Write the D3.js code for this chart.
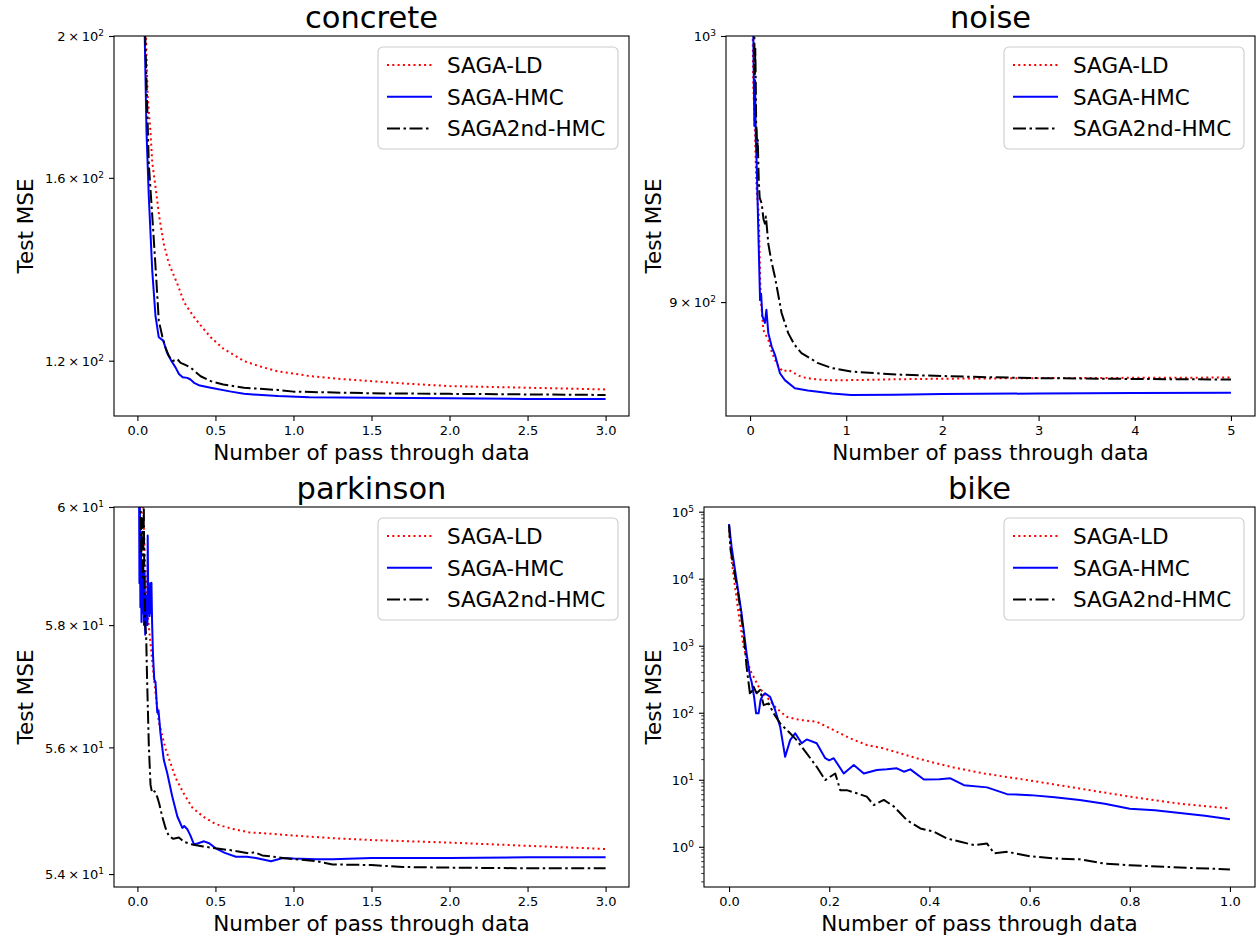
<!DOCTYPE html>
<html>
<head>
<meta charset="utf-8">
<script src="https://cdn.jsdelivr.net/npm/d3@7"></script>
<style>
  body { margin: 0; background: #fff; }
  svg { display: block; font-family: "DejaVu Sans", sans-serif; }
</style>
</head>
<body>
<svg id="fig" width="1256" height="939"></svg>
<script>
// ---------------- data ----------------
const seriesNames = ["SAGA-LD", "SAGA-HMC", "SAGA2nd-HMC"];
const panelTitles = ["concrete", "noise", "parkinson", "bike"];

// concrete
const concreteLdX  = [0.0, 0.03, 0.055, 0.066, 0.083, 0.095, 0.116, 0.14, 0.169, 0.2, 0.256, 0.3, 0.363, 0.42, 0.47, 0.55, 0.685, 0.8, 0.9, 1.0, 1.11, 1.3, 1.5, 1.75, 2.0, 2.5, 3.0];
const concreteLdY  = [300, 240, 200, 181.7, 172.5, 164, 157.7, 150.5, 144.2, 140, 135.4, 131.5, 128.5, 126.3, 124.5, 122.3, 119.9, 118.8, 118.0, 117.6, 117.1, 116.6, 116.2, 115.7, 115.3, 115.0, 114.7];
const concreteHmcX = [0.0, 0.03, 0.047, 0.058, 0.073, 0.095, 0.116, 0.137, 0.15, 0.165, 0.19, 0.219, 0.245, 0.266, 0.29, 0.32, 0.34, 0.363, 0.4, 0.47, 0.6, 0.683, 0.9, 1.1, 1.5, 2.0, 2.5, 3.0];
const concreteHmcY = [320, 250, 200, 172.4, 155.4, 138.3, 128.7, 124.5, 124.2, 123.9, 121.5, 119.9, 118.7, 117.5, 116.9, 116.8, 116.5, 115.9, 115.4, 115.0, 114.3, 113.9, 113.5, 113.3, 113.2, 113.1, 113.0, 113.0];
const concrete2ndX = [0.0, 0.03, 0.05, 0.073, 0.1, 0.12, 0.137, 0.16, 0.18, 0.2, 0.223, 0.24, 0.256, 0.277, 0.3, 0.341, 0.405, 0.47, 0.55, 0.683, 0.9, 1.0, 1.5, 2.0, 2.5, 3.0];
const concrete2ndY = [330, 260, 200, 163.6, 148, 137, 127.8, 124.6, 122.5, 121.0, 119.9, 120.1, 120.3, 119.6, 119.3, 118.7, 117.1, 116.2, 115.6, 115.0, 114.6, 114.3, 114.0, 113.9, 113.8, 113.7];

// noise
const noiseLdX  = [0.0, 0.025, 0.034, 0.045, 0.052, 0.06, 0.07, 0.09, 0.11, 0.138, 0.19, 0.225, 0.259, 0.3, 0.345, 0.397, 0.45, 0.535, 0.65, 0.81, 1.0, 1.22, 1.5, 2.0, 3.0, 4.0, 5.0];
const noiseLdY  = [1100, 1010, 980, 970, 962, 950, 940, 932, 902, 890.1, 886.6, 882.5, 879.7, 877, 875.6, 876.2, 875.2, 873.7, 873.0, 872.6, 872.6, 872.7, 872.9, 873.1, 873.3, 873.4, 873.5];
const noiseHmcX = [0.0, 0.025, 0.034, 0.045, 0.052, 0.06, 0.069, 0.086, 0.104, 0.115, 0.128, 0.155, 0.17, 0.19, 0.225, 0.259, 0.311, 0.362, 0.466, 0.6, 0.707, 0.85, 1.05, 1.5, 2.0, 3.0, 4.0, 5.0];
const noiseHmcY = [1120, 1010, 1000, 965, 982.6, 960, 950.7, 926, 900.7, 903, 895, 892.6, 897.3, 889, 884.3, 881.4, 875, 872.6, 869.8, 869, 868.6, 868.0, 867.5, 867.6, 867.8, 868.0, 868.2, 868.3];
const noise2ndX = [0.0, 0.03, 0.045, 0.05, 0.055, 0.059, 0.064, 0.069, 0.075, 0.08, 0.09, 0.1, 0.121, 0.14, 0.155, 0.165, 0.19, 0.22, 0.259, 0.328, 0.397, 0.46, 0.535, 0.707, 0.85, 1.05, 1.3, 1.57, 1.92, 2.5, 3.0, 4.0, 5.0];
const noise2ndY = [1100, 1020, 998.3, 985, 995, 982.6, 965, 963.3, 955, 960, 945, 938, 935.8, 930, 928.4, 931, 921, 915, 909, 896.1, 889, 885, 882, 878.5, 876.8, 875.6, 875.0, 874.5, 874.1, 873.6, 873.3, 873.0, 872.8];

// parkinson
const parkLdX  = [0.0, 0.03, 0.05, 0.065, 0.08, 0.095, 0.111, 0.137, 0.18, 0.245, 0.3, 0.352, 0.42, 0.502, 0.6, 0.717, 0.85, 1.0, 1.25, 1.5, 2.0, 2.5, 3.0];
const parkLdY  = [63, 60.5, 59.0, 58.2, 57.8, 57.4, 57.0, 56.41, 55.98, 55.51, 55.25, 55.04, 54.9, 54.78, 54.71, 54.65, 54.63, 54.60, 54.56, 54.53, 54.49, 54.44, 54.39];
const parkHmcX = [0.0, 0.011, 0.013, 0.016, 0.019, 0.022, 0.026, 0.03, 0.034, 0.038, 0.042, 0.046, 0.05, 0.055, 0.06, 0.064, 0.066, 0.07, 0.074, 0.078, 0.082, 0.086, 0.09, 0.094, 0.1, 0.108, 0.116, 0.127, 0.135, 0.148, 0.169, 0.191, 0.223, 0.256, 0.288, 0.3, 0.32, 0.34, 0.363, 0.39, 0.427, 0.46, 0.502, 0.56, 0.631, 0.7, 0.76, 0.856, 0.932, 1.0, 1.146, 1.25, 1.5, 2.0, 2.5, 3.0];
const parkHmcY = [62, 60.0, 58.7, 60.0, 58.3, 59.5, 58.05, 59.0, 58.2, 59.06, 58.0, 58.9, 57.84, 58.3, 58.5, 58.0, 59.51, 58.2, 58.5, 58.15, 58.7, 58.2, 58.71, 58.05, 57.5, 57.1, 57.06, 56.57, 56.6, 56.22, 55.8, 55.59, 55.22, 54.9, 54.72, 54.75, 54.7, 54.6, 54.46, 54.48, 54.51, 54.48, 54.40, 54.33, 54.27, 54.27, 54.25, 54.20, 54.25, 54.24, 54.23, 54.23, 54.25, 54.25, 54.26, 54.26];
const park2ndX = [0.0, 0.02, 0.025, 0.03, 0.035, 0.041, 0.044, 0.047, 0.05, 0.056, 0.062, 0.073, 0.084, 0.092, 0.099, 0.11, 0.127, 0.14, 0.159, 0.18, 0.202, 0.23, 0.266, 0.3, 0.352, 0.42, 0.502, 0.6, 0.717, 0.75, 0.8, 0.932, 1.146, 1.25, 1.5, 1.7, 2.0, 2.5, 3.0];
const park2ndY = [63, 60.3, 59.2, 59.8, 58.8, 60.0, 58.9, 58.5, 58.0, 57.84, 57.11, 56.04, 55.4, 55.3, 55.27, 55.3, 55.21, 55.1, 54.9, 54.72, 54.59, 54.55, 54.57, 54.5, 54.46, 54.43, 54.40, 54.37, 54.32, 54.34, 54.29, 54.25, 54.2, 54.15, 54.14, 54.11, 54.10, 54.09, 54.09];

// bike
const bikeLdX  = [0.0, 0.005, 0.012, 0.019, 0.029, 0.042, 0.059, 0.075, 0.095, 0.115, 0.142, 0.175, 0.209, 0.242, 0.275, 0.309, 0.342, 0.375, 0.442, 0.509, 0.595, 0.7, 0.8, 0.9, 1.0];
const bikeLdY  = [53000, 19000, 7600, 3050, 966, 435, 245, 173, 116, 87, 78, 73.5, 55, 41.5, 33, 29.4, 24.8, 20.9, 15.6, 12.4, 9.9, 7.4, 5.6, 4.4, 3.74];
const bikeHmcX = [0.0, 0.005, 0.015, 0.025, 0.035, 0.042, 0.045, 0.05, 0.054, 0.059, 0.063, 0.067, 0.072, 0.082, 0.092, 0.102, 0.112, 0.122, 0.132, 0.145, 0.155, 0.175, 0.192, 0.2, 0.209, 0.229, 0.249, 0.269, 0.295, 0.315, 0.335, 0.349, 0.362, 0.389, 0.42, 0.442, 0.469, 0.515, 0.555, 0.602, 0.65, 0.7, 0.75, 0.8, 0.85, 0.9, 0.95, 1.0];
const bikeHmcY = [65500, 30000, 9550, 3050, 771, 345, 290, 173, 98, 98, 155, 180, 195, 173, 110, 62, 22, 39, 49.5, 35, 40, 35, 21, 19.5, 21, 12.4, 16.6, 12.4, 14, 14.3, 14.8, 13.2, 14.3, 10.1, 10.2, 10.5, 8.3, 7.7, 6.1, 5.9, 5.5, 5.0, 4.4, 3.7, 3.5, 3.2, 2.9, 2.57];
const bike2ndX = [0.0, 0.003, 0.009, 0.019, 0.029, 0.035, 0.04, 0.042, 0.049, 0.055, 0.062, 0.069, 0.079, 0.089, 0.102, 0.119, 0.135, 0.155, 0.175, 0.192, 0.202, 0.212, 0.222, 0.235, 0.255, 0.275, 0.289, 0.309, 0.329, 0.355, 0.382, 0.409, 0.435, 0.462, 0.489, 0.515, 0.529, 0.555, 0.602, 0.65, 0.7, 0.75, 0.8, 0.9, 1.0];
const bike2ndY = [63000, 27000, 15000, 5400, 1530, 486, 245, 183, 245, 195, 219, 130, 138, 98, 69.5, 52, 39, 24.8, 15.6, 9.9, 11.1, 12.4, 7.0, 7.0, 6.3, 5.6, 4.2, 5.0, 4.0, 2.5, 1.88, 1.68, 1.33, 1.19, 1.06, 1.12, 0.8, 0.84, 0.72, 0.67, 0.65, 0.56, 0.53, 0.49, 0.46];

// tick values and labels ([mantissa, exponent]; empty mantissa means a plain power of ten)
const concreteXTicks = [0, 0.5, 1.0, 1.5, 2.0, 2.5, 3.0];
const noiseXTicks    = [0, 1, 2, 3, 4, 5];
const parkXTicks     = [0, 0.5, 1.0, 1.5, 2.0, 2.5, 3.0];
const bikeXTicks     = [0, 0.2, 0.4, 0.6, 0.8, 1.0];
const concreteYTicks = [120, 160, 200];
const concreteYLabels = [["1.2", 2], ["1.6", 2], ["2", 2]];
const noiseYTicks    = [900, 1000];
const noiseYLabels   = [["9", 2], ["", 3]];
const parkYTicks     = [54, 56, 58, 60];
const parkYLabels    = [["5.4", 1], ["5.6", 1], ["5.8", 1], ["6", 1]];
const bikeYTicks     = [1, 10, 100, 1000, 10000, 100000];
const bikeYLabels    = [["", 0], ["", 1], ["", 2], ["", 3], ["", 4], ["", 5]];

// ---------------- layout & style ----------------
const svg = d3.select("#fig");
const colors = ["#ff0000", "#0000ff", "#000000"];
const dashes = ["2,3.3", null, "13,3.5,2.5,3.5"];
const widths = [2, 2, 2];

const panels = [
  { title: panelTitles[0], box: [114, 36, 629, 416], xDomain: [-0.15, 3.15], xTicks: concreteXTicks, xFmt: d3.format(".1f"),
    yDomain: [110, 200], yTicks: concreteYTicks, yLabels: concreteYLabels, minor: false, ylabX: 33,
    series: [[concreteLdX, concreteLdY], [concreteHmcX, concreteHmcY], [concrete2ndX, concrete2ndY]] },
  { title: panelTitles[1], box: [726, 36, 1255, 416], xDomain: [-0.25, 5.25], xTicks: noiseXTicks, xFmt: d3.format("d"),
    yDomain: [860.3, 1000], yTicks: noiseYTicks, yLabels: noiseYLabels, minor: false, ylabX: 661,
    series: [[noiseLdX, noiseLdY], [noiseHmcX, noiseHmcY], [noise2ndX, noise2ndY]] },
  { title: panelTitles[2], box: [114, 507, 629, 887], xDomain: [-0.15, 3.15], xTicks: parkXTicks, xFmt: d3.format(".1f"),
    yDomain: [53.8, 60], yTicks: parkYTicks, yLabels: parkYLabels, minor: false, ylabX: 33,
    series: [[parkLdX, parkLdY], [parkHmcX, parkHmcY], [park2ndX, park2ndY]] },
  { title: panelTitles[3], box: [704, 507, 1255, 887], xDomain: [-0.05, 1.05], xTicks: bikeXTicks, xFmt: d3.format(".1f"),
    yDomain: [Math.pow(10, -0.6), Math.pow(10, 5.07)], yTicks: bikeYTicks, yLabels: bikeYLabels, minor: true, ylabX: 661,
    series: [[bikeLdX, bikeLdY], [bikeHmcX, bikeHmcY], [bike2ndX, bike2ndY]] }
];

panels.forEach((p, pi) => {
  const [x0, y0, x1, y1] = p.box;
  const x = d3.scaleLinear().domain(p.xDomain).range([x0, x1]);
  const y = d3.scaleLog().domain(p.yDomain).range([y1, y0]);
  const g = svg.append("g");

  const clipId = "clip" + pi;
  svg.append("clipPath").attr("id", clipId)
    .append("rect").attr("x", x0).attr("y", y0).attr("width", x1 - x0).attr("height", y1 - y0);

  // x axis
  const xa = g.append("g").attr("transform", `translate(0,${y1})`)
    .call(d3.axisBottom(x).tickValues(p.xTicks).tickFormat(p.xFmt).tickSize(5).tickPadding(5));
  xa.select(".domain").remove();
  xa.selectAll("line").attr("stroke", "#000").attr("stroke-width", 1.1);
  xa.selectAll("text").attr("font-size", 13).attr("fill", "#000").attr("font-family", "DejaVu Sans");

  // y axis (log) with scientific labels
  const ya = g.append("g").attr("transform", `translate(${x0},0)`)
    .call(d3.axisLeft(y).tickValues(p.yTicks).tickFormat("").tickSize(5).tickPadding(5));
  ya.select(".domain").remove();
  ya.selectAll("line").attr("stroke", "#000").attr("stroke-width", 1.1);
  ya.selectAll(".tick").each(function (d, i) {
    const [mant, ex] = p.yLabels[i];
    const t = d3.select(this).select("text")
      .attr("font-size", 13).attr("fill", "#000").attr("font-family", "DejaVu Sans")
      .attr("x", -10).attr("dy", "0.36em").text(null);
    t.append("tspan").text(mant ? mant + "\u2009\u00d7\u200910" : "10");
    t.append("tspan").attr("font-size", 9).attr("dy", "-0.55em").text(String(ex));
  });

  if (p.minor) {
    const minor = [];
    for (let k = -1; k <= 5; k++) for (let m = 2; m <= 9; m++) {
      const v = m * Math.pow(10, k);
      if (v >= p.yDomain[0] && v <= p.yDomain[1]) minor.push(v);
    }
    g.append("g").selectAll("line").data(minor).join("line")
      .attr("x1", x0).attr("x2", x0 - 2.8)
      .attr("y1", d => y(d)).attr("y2", d => y(d))
      .attr("stroke", "#000").attr("stroke-width", 0.8);
  }

  // series lines
  const line = d3.line().x(d => x(d[0])).y(d => y(d[1]));
  const lg = g.append("g").attr("clip-path", `url(#${clipId})`);
  p.series.forEach((s, si) => {
    const pts = s[0].map((xv, k) => [xv, s[1][k]]);
    lg.append("path").datum(pts)
      .attr("d", line)
      .attr("fill", "none")
      .attr("stroke", colors[si])
      .attr("stroke-width", widths[si])
      .attr("stroke-dasharray", dashes[si])
      .attr("stroke-linejoin", "round");
  });

  // frame
  g.append("rect").attr("x", x0).attr("y", y0).attr("width", x1 - x0).attr("height", y1 - y0)
    .attr("fill", "none").attr("stroke", "#000").attr("stroke-width", 1.1);

  // legend
  const lw = 240, lh = 102;
  const lx = x1 - 11 - lw, ly = y0 + 11;
  const leg = g.append("g").attr("transform", `translate(${lx},${ly})`);
  leg.append("rect").attr("width", lw).attr("height", lh).attr("rx", 5)
    .attr("fill", "#fff").attr("fill-opacity", 0.8).attr("stroke", "#cccccc").attr("stroke-width", 1.1);
  seriesNames.forEach((nm, si) => {
    const cy = 18 + si * 31.7;
    leg.append("line").attr("x1", 9).attr("x2", 54).attr("y1", cy).attr("y2", cy)
      .attr("stroke", colors[si]).attr("stroke-width", widths[si]).attr("stroke-dasharray", dashes[si]);
    leg.append("text").attr("x", 69).attr("y", cy + 7.8).attr("font-size", 21.5).attr("fill", "#000").text(nm);
  });

  // titles and axis labels
  g.append("text").attr("x", (x0 + x1) / 2).attr("y", y0 - 8).attr("text-anchor", "middle")
    .attr("font-size", 30.5).attr("fill", "#000").text(p.title);
  g.append("text").attr("x", (x0 + x1) / 2).attr("y", y1 + 44).attr("text-anchor", "middle")
    .attr("font-size", 21.5).attr("fill", "#000").text("Number of pass through data");
  g.append("text").attr("transform", `translate(${p.ylabX},${(y0 + y1) / 2}) rotate(-90)`)
    .attr("text-anchor", "middle").attr("font-size", 21.5).attr("fill", "#000").text("Test MSE");
});
</script>
</body>
</html>
